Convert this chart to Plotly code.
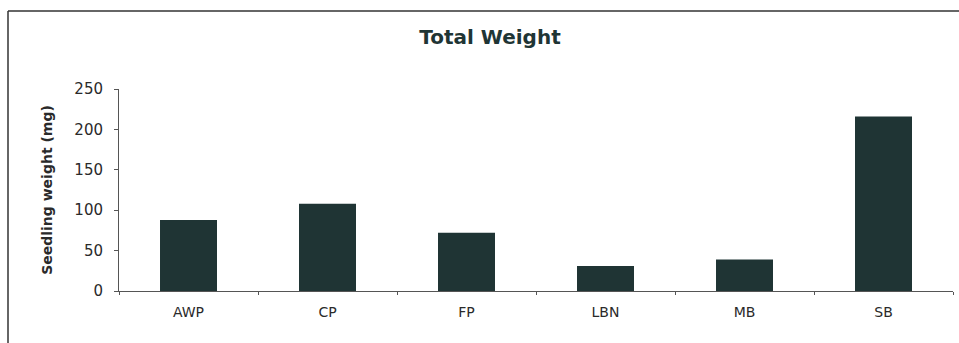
import plotly.graph_objects as go

# Seedling totals by site
sites = ["AWP", "CP", "FP", "LBN", "MB", "SB"]
total_weight_mg = [88, 108, 72, 31, 39, 216]
y_ticks = [0, 50, 100, 150, 200, 250]

bar_color = "#1f3434"
ink = "#2a2a2a"
wide_font = "DejaVu Sans, Verdana, sans-serif"

fig = go.Figure(
    go.Bar(
        x=sites,
        y=total_weight_mg,
        marker=dict(color=bar_color, line=dict(width=0)),
    )
)

fig.update_layout(
    width=959,
    height=343,
    margin=dict(l=119, r=6, t=89, b=52),
    paper_bgcolor="white",
    plot_bgcolor="white",
    bargap=0.59,
    showlegend=False,
    font=dict(family=wide_font, color=ink),
    title=dict(
        text="<b>Total Weight</b>",
        x=490 / 959,
        xanchor="center",
        xref="container",
        y=1 - 37 / 343,
        yanchor="middle",
        font=dict(size=20, color="#1f3535", family=wide_font),
    ),
)

fig.update_xaxes(
    showline=True,
    linecolor="#555",
    linewidth=1,
    ticks="outside",
    tickson="boundaries",
    ticklen=3,
    tickcolor="#555",
    ticklabelstandoff=8,
    tickfont=dict(size=14, color=ink),
    showgrid=False,
)

fig.update_yaxes(
    range=[0, 250],
    tickvals=y_ticks,
    showline=True,
    linecolor="#555",
    linewidth=1,
    ticks="outside",
    ticklen=4,
    tickcolor="#555",
    ticklabelstandoff=8,
    tickfont=dict(size=15, color=ink),
    showgrid=False,
    zeroline=False,
    title=dict(
        text="<b>Seedling weight (mg)</b>",
        font=dict(size=14, color=ink),
        standoff=18,
    ),
)

# Outer chart border (left and top edges)
top = (343 - 11 - 52) / 202
left = -111 / 834
fig.add_shape(type="line", xref="paper", yref="paper",
              x0=left, x1=left, y0=-60 / 202, y1=top,
              line=dict(color="#333", width=1.5))
fig.add_shape(type="line", xref="paper", yref="paper",
              x0=left, x1=1.02, y0=top, y1=top,
              line=dict(color="#333", width=1.5))

fig.write_html("out.html")
